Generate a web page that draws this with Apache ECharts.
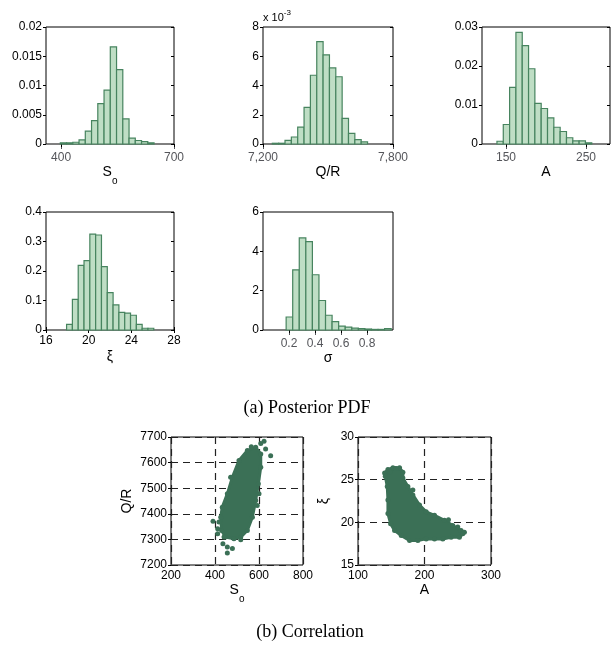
<!DOCTYPE html>
<html>
<head>
<meta charset="utf-8">
<script src="https://cdn.jsdelivr.net/npm/echarts@6/dist/echarts.min.js"></script>
<style>
  html, body { margin: 0; padding: 0; background: #fff; }
  #chart { width: 614px; height: 648px; }
</style>
</head>
<body>
<div id="chart"></div>
<script>
// Posterior PDF histograms: left edge of first bin, bin width, densities
const soBinStart = 398
const soBinWidth = 16.6
const soDensity = [0.0002, 0.0002, 0.0003, 0.0007, 0.0022, 0.004, 0.0069, 0.0092, 0.0166, 0.0127, 0.0043, 0.001, 0.0006, 0.0004, 0.0002]

const qrBinStart = 7243
const qrBinWidth = 29.3
const qrDensity = [0.05, 0.05, 0.25, 0.48, 1.15, 2.5, 4.7, 7.0, 6.1, 5.2, 4.6, 1.75, 0.73, 0.3, 0.14] // x 10^-3

const aBinStart = 138.7
const aBinWidth = 7.9
const aDensity = [0.0007, 0.005, 0.0145, 0.0286, 0.0252, 0.0193, 0.0104, 0.0091, 0.0067, 0.0043, 0.0032, 0.0016, 0.0008, 0.0008, 0.0003]

const xiBinStart = 17.93
const xiBinWidth = 0.545
const xiDensity = [0.019, 0.104, 0.219, 0.235, 0.325, 0.322, 0.215, 0.127, 0.085, 0.06, 0.057, 0.05, 0.019, 0.006, 0.006]

const sigmaBinStart = 0.178
const sigmaBinWidth = 0.0505
const sigmaDensity = [0.66, 3.06, 4.68, 4.49, 2.81, 1.5, 0.75, 0.43, 0.2, 0.15, 0.1, 0.07, 0.05, 0.03, 0.03, 0.07]

// Correlation clouds: outline of the dense region plus stray samples
const soQrCloud = [
  [547, 7647], [585, 7660], [608, 7634], [608, 7582], [597, 7517], [585, 7452],
  [570, 7387], [547, 7335], [517, 7309], [486, 7303], [448, 7309], [430, 7335],
  [426, 7387], [433, 7426], [456, 7478], [479, 7543], [509, 7608]
]
const soQrStray = [
  [623, 7683], [608, 7675], [630, 7653], [653, 7627], [471, 7543], [600, 7478],
  [592, 7432], [391, 7371], [418, 7368], [412, 7342], [412, 7322], [517, 7299],
  [436, 7283], [456, 7270], [456, 7247], [479, 7264], [441, 7309], [565, 7662]
]
const aXiCloud = [
  [140, 25.79], [145, 26.19], [152.5, 26.39], [162.5, 26.39], [167.5, 25.87],
  [167.5, 25.2], [175, 24.21], [182.5, 23.21], [192.5, 22.02], [202.5, 21.23],
  [215, 20.83], [230, 20.24], [242.5, 19.64], [255, 19.05], [257.5, 18.65],
  [252.5, 18.25], [240, 18.25], [227.5, 18.06], [215, 18.06], [202.5, 18.06],
  [190, 17.86], [177.5, 17.86], [165, 18.45], [155, 19.05], [149, 19.84],
  [145, 21.03], [145, 22.62], [144, 24.21], [141, 25.4]
]
const aXiStray = [
  [182.5, 23.8], [260, 18.85], [250, 19.44], [157, 26.3], [148, 25.9], [236, 20.3]
]

const FONT = '"Liberation Sans", Arial, Helvetica, sans-serif'
const SERIF = '"Liberation Serif", "Times New Roman", serif'
const barFill = '#bfdec5'
const barEdge = '#47845f'
const dotColor = '#3b7056'

const chart = echarts.init(document.getElementById('chart'))

const grids = []
const xAxes = []
const yAxes = []
const series = []

const plain = v => String(v)

const subRich = {
  s: { fontSize: 14, fontFamily: FONT, color: '#000', verticalAlign: 'top', lineHeight: 16 },
  o: { fontSize: 10, fontFamily: FONT, color: '#000', verticalAlign: 'top', lineHeight: 10, padding: [11, 0, 0, 0] }
}

const addPanel = (rect, xOpt, yOpt, hist) => {
  const gi = grids.length
  grids.push({ left: rect[0], top: rect[1], width: rect[2], height: rect[3], show: true, borderColor: '#000', borderWidth: 1, backgroundColor: 'transparent' })
  const xi = xAxes.length
  const yi = yAxes.length
  xAxes.push(Object.assign({
    type: 'value', gridIndex: gi, position: 'bottom',
    axisLine: { show: false },
    axisTick: { show: true, inside: hist, length: 3, lineStyle: { color: '#000' } },
    axisLabel: { color: '#000', fontSize: 12, fontFamily: FONT, margin: 5, formatter: plain },
    splitLine: { show: false },
    nameLocation: 'middle', nameGap: 20,
    nameTextStyle: { fontSize: 14, fontFamily: FONT, color: '#000', rich: subRich }
  }, xOpt))
  yAxes.push(Object.assign({
    type: 'value', gridIndex: gi, position: 'left',
    axisLine: { show: false },
    axisTick: { show: true, inside: false, length: 3, lineStyle: { color: '#000' } },
    axisLabel: { color: '#000', fontSize: 12, fontFamily: FONT, margin: 4, formatter: plain },
    splitLine: { show: false },
    nameLocation: 'middle', nameRotate: 90,
    nameTextStyle: { fontSize: 14, fontFamily: FONT, color: '#000' }
  }, yOpt))
  if (hist) {
    // matlab-style inner ticks on top and right
    xAxes.push({
      type: 'value', gridIndex: gi, position: 'top', min: xOpt.min, max: xOpt.max, interval: xOpt.interval,
      axisLine: { show: false }, axisLabel: { show: false }, splitLine: { show: false },
      axisTick: { show: true, inside: true, length: 3, lineStyle: { color: '#000' }, customValues: xOpt.axisTick ? xOpt.axisTick.customValues : undefined }
    })
    yAxes.push({
      type: 'value', gridIndex: gi, position: 'right', min: yOpt.min, max: yOpt.max, interval: yOpt.interval,
      axisLine: { show: false }, axisLabel: { show: false }, splitLine: { show: false },
      axisTick: { show: true, inside: true, length: 3, lineStyle: { color: '#000' } }
    })
  }
  return { xi, yi }
}

const addHist = (ax, start, width, dens) => {
  const data = dens.map((d, i) => [start + i * width, start + (i + 1) * width, d])
  series.push({
    type: 'custom', xAxisIndex: ax.xi, yAxisIndex: ax.yi, data,
    encode: { x: [0, 1], y: 2 },
    renderItem: (params, api) => {
      const p0 = api.coord([api.value(0), api.value(2)])
      const p1 = api.coord([api.value(1), 0])
      return {
        type: 'rect',
        shape: { x: p0[0], y: p0[1], width: p1[0] - p0[0], height: p1[1] - p0[1] },
        style: { fill: barFill, stroke: barEdge, lineWidth: 1.2 }
      }
    }
  })
}

const addCloud = (ax, outline, stray) => {
  series.push({
    type: 'custom', xAxisIndex: ax.xi, yAxisIndex: ax.yi, data: [0],
    renderItem: (params, api) => ({
      type: 'polygon',
      shape: { points: outline.map(p => api.coord(p)) },
      style: { fill: dotColor, stroke: dotColor, lineWidth: 3 }
    })
  })
  series.push({
    type: 'scatter', xAxisIndex: ax.xi, yAxisIndex: ax.yi,
    data: outline.concat(stray), symbolSize: 5,
    itemStyle: { color: dotColor, opacity: 1 }
  })
}

// (a) posterior PDFs
const pSo = addPanel([46, 27, 128, 117],
  { min: 360, max: 700, name: '{s|S}{o|o}', axisLabel: { customValues: [400, 700] }, axisTick: { customValues: [400, 700] } },
  { min: 0, max: 0.02, interval: 0.005 }, true)
addHist(pSo, soBinStart, soBinWidth, soDensity)

const pQr = addPanel([263, 27, 130, 117],
  { min: 7200, max: 7800, name: 'Q/R', axisLabel: { customValues: [7200, 7800], formatter: v => v.toLocaleString('en-US') }, axisTick: { customValues: [7200, 7800] } },
  { min: 0, max: 8, interval: 2 }, true)
addHist(pQr, qrBinStart, qrBinWidth, qrDensity)

const pA = addPanel([482, 27, 128, 117],
  { min: 120, max: 280, name: 'A', axisLabel: { customValues: [150, 250] }, axisTick: { customValues: [150, 250] } },
  { min: 0, max: 0.03, interval: 0.01 }, true)
addHist(pA, aBinStart, aBinWidth, aDensity)

const pXi = addPanel([46, 212, 128, 118],
  { min: 16, max: 28, interval: 4, name: 'ξ' },
  { min: 0, max: 0.4, interval: 0.1 }, true)
addHist(pXi, xiBinStart, xiBinWidth, xiDensity)

const pSigma = addPanel([263, 212, 130, 118],
  { min: 0, max: 1, name: 'σ', axisLabel: { customValues: [0.2, 0.4, 0.6, 0.8] }, axisTick: { customValues: [0.2, 0.4, 0.6, 0.8] } },
  { min: 0, max: 6, interval: 2 }, true)
addHist(pSigma, sigmaBinStart, sigmaBinWidth, sigmaDensity)

// (b) correlation
const dashed = { show: true, lineStyle: { color: '#222', type: [7, 5], width: 1.2 } }
const pC1 = addPanel([171, 437, 132, 128],
  { min: 200, max: 800, interval: 200, name: '{s|S}{o|o}', nameGap: 17, splitLine: dashed, axisTick: { show: false } },
  { min: 7200, max: 7700, interval: 100, name: 'Q/R', nameGap: 37, splitLine: dashed }, false)
addCloud(pC1, soQrCloud, soQrStray)

const pC2 = addPanel([358, 437, 133, 128],
  { min: 100, max: 300, interval: 100, name: 'A', nameGap: 17, splitLine: dashed, axisTick: { show: false } },
  { min: 15, max: 30, interval: 5, name: 'ξ', nameGap: 27, splitLine: dashed }, false)
addCloud(pC2, aXiCloud, aXiStray)

const option = {
  animation: false,
  backgroundColor: '#fff',
  grid: grids,
  xAxis: xAxes,
  yAxis: yAxes,
  series,
  graphic: [
    {
      type: 'text', left: 263, top: 9,
      style: {
        text: '{a|x 10}{b|-3}',
        rich: {
          a: { fontSize: 11, fontFamily: FONT, fill: '#000', verticalAlign: 'bottom', lineHeight: 14 },
          b: { fontSize: 8, fontFamily: FONT, fill: '#000', verticalAlign: 'top', lineHeight: 8 }
        }
      }
    },
    {
      type: 'text', x: 307, y: 408,
      style: { text: '(a) Posterior PDF', fontSize: 18, fontFamily: SERIF, fill: '#000', align: 'center', verticalAlign: 'middle' }
    },
    {
      type: 'text', x: 310, y: 632,
      style: { text: '(b) Correlation', fontSize: 18, fontFamily: SERIF, fill: '#000', align: 'center', verticalAlign: 'middle' }
    }
  ]
}

chart.setOption(option)
</script>
</body>
</html>
